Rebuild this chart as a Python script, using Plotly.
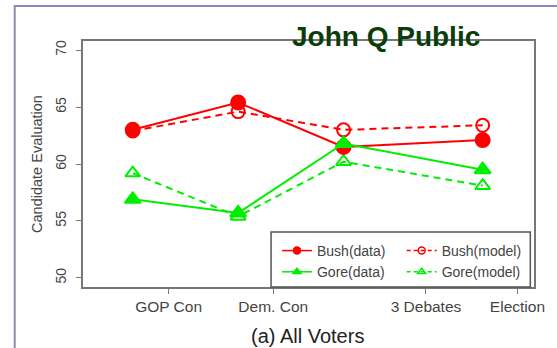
import plotly.graph_objects as go

# positions along the campaign timeline (arbitrary units)
x_points = [0.0, 1.0, 2.0, 3.32]
tick_vals = [0.34, 1.333, 2.782, 3.65]
tick_text = ["GOP Con", "Dem. Con", "3 Debates", "Election"]

bush_data = [63.0, 65.4, 61.5, 62.1]
bush_model = [62.9, 64.6, 63.0, 63.4]
gore_data = [56.9, 55.7, 61.8, 59.5]
gore_model = [59.2, 55.4, 60.2, 58.1]

RED = "#ff0000"
GREEN = "#00ee00"
FONT = "Liberation Sans, Arial, sans-serif"

fig = go.Figure()

series = [
    ("Bush(data)", bush_data, RED, "solid", "circle", "legend"),
    ("Bush(model)", bush_model, RED, "dash", "circle-open", "legend2"),
    ("Gore(data)", gore_data, GREEN, "solid", "triangle-up", "legend"),
    ("Gore(model)", gore_model, GREEN, "dash", "triangle-up-open", "legend2"),
]

# main traces: model (dashed) below, data on top
for name, vals, col, dash, sym, lg in [series[1], series[3], series[0], series[2]]:
    fig.add_trace(go.Scatter(
        x=x_points, y=vals, mode="lines+markers", name=name, showlegend=False,
        line=dict(color=col, width=2, dash="7px,5px" if dash == "dash" else "solid"),
        marker=dict(symbol=sym, size=14 if "open" not in sym else 13, color=col,
                    line=dict(color=col, width=2)),
    ))

# legend-only entries with small markers (two columns)
for name, vals, col, dash, sym, lg in series:
    fig.add_trace(go.Scatter(
        x=[None], y=[None], mode="lines+markers", name=name, showlegend=True, legend=lg,
        line=dict(color=col, width=1.5, dash="4px,3px" if dash == "dash" else "solid"),
        marker=dict(symbol=sym, size=7, color=col, line=dict(color=col, width=1.5)),
    ))

PW, PH = 455.7, 246.0
legend_common = dict(
    orientation="v", xanchor="left", yanchor="top",
    bgcolor="rgba(0,0,0,0)", borderwidth=0,
    font=dict(family=FONT, size=14, color="#444444"),
    traceorder="normal", tracegroupgap=0,
)

fig.update_layout(
    width=557, height=348,
    margin=dict(l=83, r=18, t=41, b=61),
    paper_bgcolor="white", plot_bgcolor="white",
    font=dict(family=FONT, color="#444444"),
    showlegend=True,
    legend=dict(x=(279 - 83) / PW, y=(287 - 235) / PH, **legend_common),
    legend2=dict(x=(405 - 83) / PW, y=(287 - 235) / PH, **legend_common),
    xaxis=dict(
        range=[-0.472, 3.807], tickmode="array", tickvals=tick_vals, ticktext=tick_text,
        showgrid=False, zeroline=False, showline=True, mirror=True,
        linecolor="#777777", linewidth=1.5, ticks="outside", ticklen=5,
        tickcolor="#777777", tickfont=dict(size=15.5, color="#444444"),
    ),
    yaxis=dict(
        range=[49.2, 70.8], tickvals=[50, 55, 60, 65, 70],
        showgrid=False, zeroline=False, showline=True, mirror=True,
        linecolor="#777777", linewidth=1.5, ticks="outside", ticklen=5,
        tickcolor="#777777", tickangle=-90, tickfont=dict(size=14, color="#444444"),
        ticklabelstandoff=5,
        title=dict(text="Candidate Evaluation", font=dict(size=14.5, color="#444444"), standoff=7),
    ),
    annotations=[
        dict(text="<b>John Q Public</b>", xref="paper", yref="paper", x=(389 - 83) / PW,
             y=1 + (41 - 36) / PH, xanchor="center", yanchor="middle", showarrow=False,
             font=dict(family=FONT, size=28, color="#0b3d0b")),
        dict(text="(a) All Voters", xref="paper", yref="paper", x=(310 - 83) / PW,
             y=-(336 - 287) / PH, xanchor="center", yanchor="middle", showarrow=False,
             font=dict(family=FONT, size=20, color="#222222")),
    ],
    shapes=[
        dict(type="rect", xref="paper", yref="paper",
             x0=(14 - 83) / PW, x1=1.3, y0=-0.6, y1=1 + (41 - 6) / PH,
             line=dict(color="#8a8db0", width=2), layer="below"),
        dict(type="rect", xref="paper", yref="paper",
             x0=(273 - 83) / PW, x1=(535 - 83) / PW, y0=0, y1=(287 - 232) / PH,
             line=dict(color="#555555", width=1.5), fillcolor="white", layer="above"),
    ],
)

fig.write_html("out.html")
